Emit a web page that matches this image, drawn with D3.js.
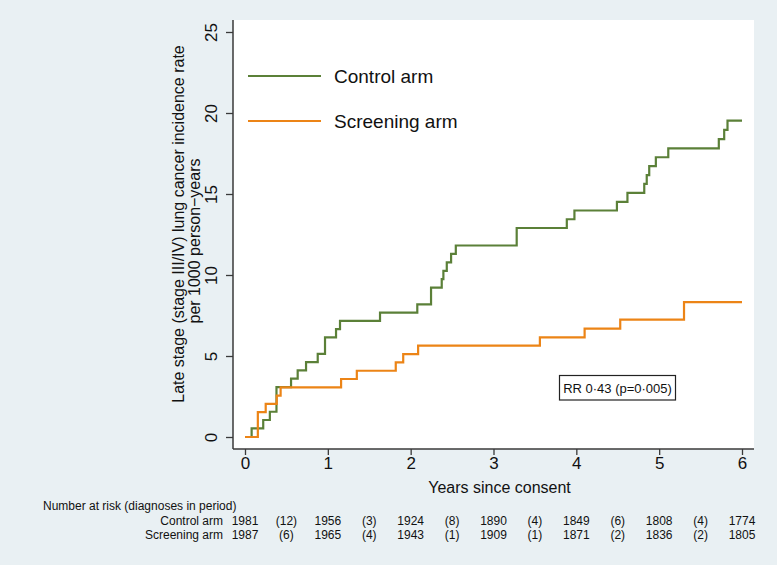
<!DOCTYPE html>
<html>
<head>
<meta charset="utf-8">
<script src="https://cdn.jsdelivr.net/npm/d3@7"></script>
<style>
  html, body { margin: 0; padding: 0; background: #e9f0f3; }
  svg { display: block; font-family: "Liberation Sans", Arial, sans-serif; }
</style>
</head>
<body>
<svg id="chart" width="777" height="565"></svg>
<script>
// ---- Data ----
const controlTimes = [0, 0.08, 0.22, 0.30, 0.38, 0.556, 0.636, 0.737, 0.878, 0.966, 1.099, 1.147, 1.63, 2.08, 2.246, 2.375, 2.395, 2.436, 2.488, 2.545, 3.28, 3.885, 3.977, 4.49, 4.617, 4.82, 4.85, 4.88, 4.96, 5.11, 5.72, 5.785, 5.825, 6];
const controlRates = [0, 0.53, 1.05, 1.56, 3.08, 3.60, 4.11, 4.62, 5.13, 6.15, 6.66, 7.17, 7.68, 8.19, 9.22, 9.74, 10.26, 10.78, 11.30, 11.82, 12.90, 13.44, 13.98, 14.52, 15.07, 15.62, 16.17, 16.72, 17.27, 17.82, 18.39, 18.96, 19.53, 19.53];

const screenTimes = [0, 0.155, 0.25, 0.383, 0.43, 1.16, 1.35, 1.82, 1.91, 2.09, 3.56, 4.10, 4.53, 5.30, 6];
const screenRates = [0, 1.53, 2.04, 2.55, 3.06, 3.58, 4.09, 4.61, 5.12, 5.64, 6.15, 6.69, 7.24, 8.33, 8.33];

const seriesNames = ["Control arm", "Screening arm"];
const xTicks = [0, 1, 2, 3, 4, 5, 6];
const yTicks = [0, 5, 10, 15, 20, 25];
const riskTimes = [0, 0.5, 1, 1.5, 2, 2.5, 3, 3.5, 4, 4.5, 5, 5.5, 6];
const riskControl = ["1981", "(12)", "1956", "(3)", "1924", "(8)", "1890", "(4)", "1849", "(6)", "1808", "(4)", "1774"];
const riskScreen = ["1987", "(6)", "1965", "(4)", "1943", "(1)", "1909", "(1)", "1871", "(2)", "1836", "(2)", "1805"];
const rrText = "RR 0·43 (p=0·005)";

// ---- Layout ----
const svg = d3.select("#chart");
const colors = ["#5b8038", "#ec8416"];
const axisColor = "#3a3a3a";
const plot = { left: 233, right: 754, top: 20, bottom: 449 };

const x = d3.scaleLinear().domain([0, 6]).range([245, 742]);
const y = d3.scaleLinear().domain([0, 25]).range([437, 32]);

// plot background
svg.append("rect").attr("x", plot.left).attr("y", plot.top)
  .attr("width", plot.right - plot.left).attr("height", plot.bottom - plot.top)
  .attr("fill", "#ffffff");

// Y axis
const yAxis = d3.axisLeft(y).tickValues(yTicks).tickSize(7).tickPadding(0).tickFormat(d3.format("d"));
const gy = svg.append("g").attr("transform", `translate(${plot.left},0)`).call(yAxis);
gy.select(".domain").remove();
gy.selectAll(".tick line").attr("stroke", axisColor).attr("stroke-width", 1.3);
gy.selectAll(".tick text")
  .attr("font-size", 17).attr("fill", "#111")
  .attr("text-anchor", "middle")
  .attr("transform", "translate(-16,0) rotate(-90)")
  .attr("x", 0).attr("y", 0).attr("dy", 0);

// X axis
const xAxis = d3.axisBottom(x).tickValues(xTicks).tickSize(6).tickPadding(2).tickFormat(d3.format("d"));
const gx = svg.append("g").attr("transform", `translate(0,${plot.bottom})`).call(xAxis);
gx.select(".domain").remove();
gx.selectAll(".tick line").attr("stroke", axisColor).attr("stroke-width", 1.3);
gx.selectAll(".tick text").attr("font-size", 17).attr("fill", "#111");

// axis lines (plot frame left & bottom)
svg.append("line").attr("x1", plot.left).attr("x2", plot.left).attr("y1", plot.top).attr("y2", plot.bottom)
  .attr("stroke", axisColor).attr("stroke-width", 1.5);
svg.append("line").attr("x1", plot.left).attr("x2", plot.right).attr("y1", plot.bottom).attr("y2", plot.bottom)
  .attr("stroke", axisColor).attr("stroke-width", 1.5);

// Axis titles
svg.append("text").attr("x", (plot.left + plot.right) / 2 + 6).attr("y", 493)
  .attr("text-anchor", "middle").attr("font-size", 16).attr("fill", "#111")
  .text("Years since consent");
const yt = svg.append("text").attr("transform", "rotate(-90)")
  .attr("text-anchor", "middle").attr("font-size", 16).attr("fill", "#111");
yt.append("tspan").attr("x", -224).attr("y", 184).text("Late stage (stage III/IV) lung cancer incidence rate");
yt.append("tspan").attr("x", -241).attr("y", 200).text("per 1000 person\u2212years");

// Step lines
const line = d3.line()
  .x(d => x(d[0])).y(d => y(d[1]))
  .curve(d3.curveStepAfter);
const seriesData = [
  d3.zip(controlTimes, controlRates),
  d3.zip(screenTimes, screenRates)
];
svg.selectAll("path.series").data(seriesData).enter().append("path")
  .attr("class", "series")
  .attr("d", line)
  .attr("fill", "none")
  .attr("stroke", (d, i) => colors[i])
  .attr("stroke-width", 2.2);

// Legend
const legY = [76, 121];
seriesNames.forEach((name, i) => {
  svg.append("line").attr("x1", 248).attr("x2", 321).attr("y1", legY[i]).attr("y2", legY[i])
    .attr("stroke", colors[i]).attr("stroke-width", 2);
  svg.append("text").attr("x", 334).attr("y", legY[i] + 7).attr("font-size", 19).attr("fill", "#111").text(name);
});

// RR box
svg.append("rect").attr("x", 559.5).attr("y", 375.5).attr("width", 116).attr("height", 24.5)
  .attr("fill", "#fff").attr("stroke", "#222").attr("stroke-width", 1.2);
svg.append("text").attr("x", 617.5).attr("y", 392.5).attr("text-anchor", "middle")
  .attr("font-size", 13).attr("fill", "#111").text(rrText);

// Number at risk table
svg.append("text").attr("x", 43).attr("y", 510).attr("font-size", 12).attr("fill", "#111")
  .text("Number at risk (diagnoses in period)");
svg.append("text").attr("x", 223).attr("y", 525).attr("text-anchor", "end").attr("font-size", 12).attr("fill", "#111").text(seriesNames[0]);
svg.append("text").attr("x", 223).attr("y", 539).attr("text-anchor", "end").attr("font-size", 12).attr("fill", "#111").text(seriesNames[1]);
[riskControl, riskScreen].forEach((row, r) => {
  svg.selectAll(null).data(row).enter().append("text")
    .attr("x", (d, i) => x(riskTimes[i]))
    .attr("y", r === 0 ? 525 : 539)
    .attr("text-anchor", "middle").attr("font-size", 12).attr("fill", "#111")
    .text(d => d);
});
</script>
</body>
</html>
